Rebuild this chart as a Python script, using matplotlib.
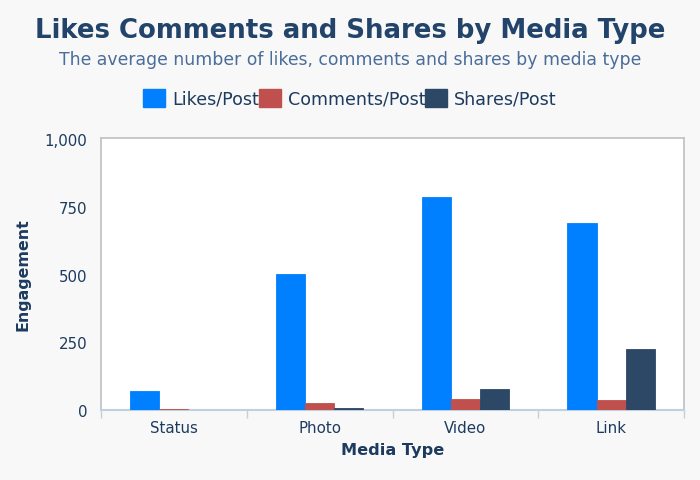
import numpy as np
import matplotlib
matplotlib.use("Agg")
import matplotlib.pyplot as plt
from matplotlib.patches import Patch
from matplotlib.ticker import FuncFormatter

plt.rcParams["font.family"] = ["DejaVu Sans"]

# Data
media_types = ["Status", "Photo", "Video", "Link"]
likes = [70, 502, 787, 691]
comments = [5, 26, 42, 37]
shares = [0, 9, 79, 225]
series_names = ["Likes/Post", "Comments/Post", "Shares/Post"]
colors = ["#0080ff", "#c0504d", "#2c4866"]

text_col = "#1d3b5f"
title_col = "#22436a"
sub_col = "#4a6d99"

fig = plt.figure(figsize=(7, 4.81), dpi=100)
fig.patch.set_facecolor("#f8f8f8")
ax = fig.add_axes([101 / 700, 70 / 481, 583 / 700, 272 / 481])
ax.set_facecolor("white")

x = np.arange(len(media_types))
w = 0.2
for i, (vals, c) in enumerate(zip([likes, comments, shares], colors)):
    ax.bar(x + (i - 1) * w, vals, width=w, color=c, edgecolor=c, linewidth=0.6, zorder=3)

ax.set_xlim(-0.5, 3.5)
ax.set_ylim(0, 1004)
ax.set_yticks([0, 250, 500, 750, 1000])
ax.yaxis.set_major_formatter(FuncFormatter(lambda v, p: f"{int(v):,}"))
ax.set_xticks(x)
ax.set_xticklabels(media_types)
ax.set_xticks([-0.5, 0.5, 1.5, 2.5, 3.5], minor=True)

ax.tick_params(axis="y", length=0, pad=10, labelsize=10.8, labelcolor=text_col)
ax.tick_params(axis="x", which="major", length=0, pad=7, labelsize=10.8, labelcolor=text_col)
ax.tick_params(axis="x", which="minor", length=6, width=1, color="#c0d0e0")

for side in ["top", "left", "right"]:
    ax.spines[side].set_color("#c4c4c4")
    ax.spines[side].set_linewidth(1.3)
ax.spines["bottom"].set_color("#c0d0e0")
ax.spines["bottom"].set_linewidth(1.5)

ax.set_xlabel("Media Type", fontsize=11.6, fontweight="bold", color=text_col, labelpad=5)
ax.set_ylabel("Engagement", fontsize=11.4, fontweight="bold", color=text_col, labelpad=10)

fig.text(0.5, 1 - 31 / 481, "Likes Comments and Shares by Media Type", ha="center", va="center",
         fontsize=18.7, fontweight="bold", color=title_col)
fig.text(0.5, 1 - 60 / 481, "The average number of likes, comments and shares by media type",
         ha="center", va="center", fontsize=12.4, color=sub_col)

handles = [Patch(facecolor=c, edgecolor=c) for c in colors]
leg = fig.legend(handles, series_names, loc="center", bbox_to_anchor=(0.5, 1 - 99 / 481), ncol=3,
                 frameon=False, fontsize=12.6, handlelength=1.25, handleheight=1.2,
                 handletextpad=0.4, columnspacing=0.0, labelcolor=text_col)

fig.savefig("out.png", dpi=100, facecolor=fig.get_facecolor())
